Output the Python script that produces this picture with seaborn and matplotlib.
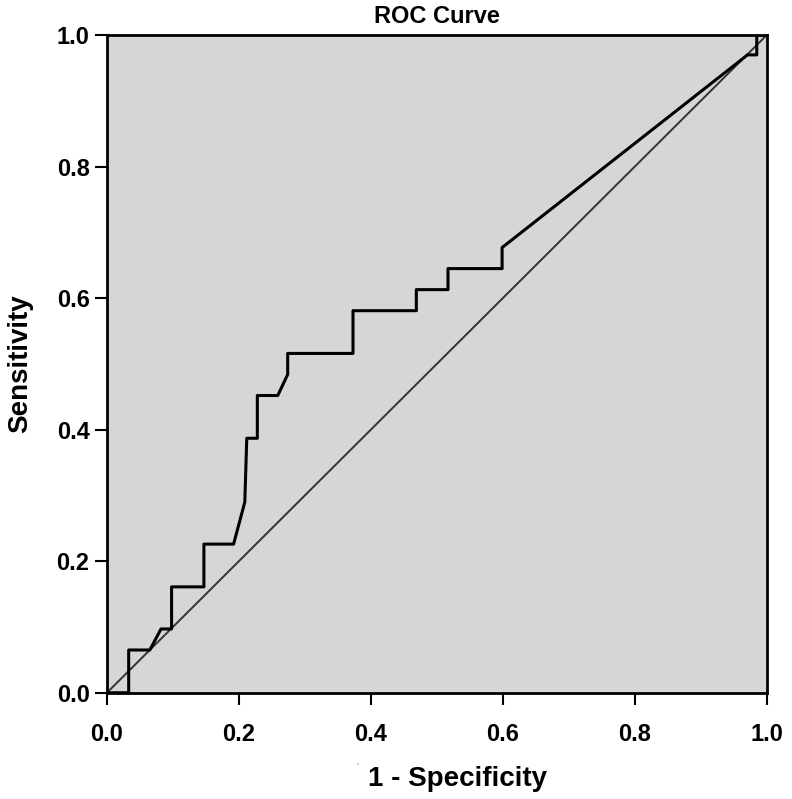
import numpy as np
import pandas as pd
import matplotlib
matplotlib.use("Agg")
import matplotlib.pyplot as plt
import seaborn as sns

# ROC curve points
fpr = [0.0, 0.033, 0.033, 0.065, 0.082, 0.098, 0.098, 0.147, 0.147, 0.192, 0.209,
       0.212, 0.212, 0.228, 0.228, 0.259, 0.274, 0.274, 0.373, 0.373, 0.469, 0.469,
       0.517, 0.517, 0.599, 0.599, 0.971, 0.985, 0.985, 1.0]
tpr = [0.0, 0.0, 0.065, 0.065, 0.097, 0.097, 0.161, 0.161, 0.226, 0.226, 0.290,
       0.387, 0.387, 0.387, 0.452, 0.452, 0.484, 0.516, 0.516, 0.581, 0.581, 0.613,
       0.613, 0.645, 0.645, 0.677, 0.970, 0.970, 1.0, 1.0]
diag = [0.0, 1.0]
ticks = [0.0, 0.2, 0.4, 0.6, 0.8, 1.0]

df = pd.DataFrame({"fpr": fpr, "tpr": tpr})

sns.set_style("ticks", {"axes.facecolor": "#d6d6d6", "axes.edgecolor": "black"})
plt.rcParams["font.family"] = ["Liberation Sans", "DejaVu Sans"]

fig = plt.figure(figsize=(7.92, 7.99), dpi=100)
ax = fig.add_axes([0.135, 0.133, 0.833, 0.823])

sns.lineplot(x=diag, y=diag, ax=ax, color="#333333", linewidth=1.4)
sns.lineplot(data=df, x="fpr", y="tpr", ax=ax, sort=False, estimator=None,
             color="black", linewidth=2.2)

ax.set_xlim(0, 1)
ax.set_ylim(0, 1)
ax.set_xticks(ticks)
ax.set_yticks(ticks)
ax.set_xticklabels([f"{t:.1f}" for t in ticks], fontsize=17, fontweight="bold")
ax.set_yticklabels([f"{t:.1f}" for t in ticks], fontsize=17, fontweight="bold")
ax.tick_params(direction="out", length=8.5, width=1.5, color="black", labelcolor="black")
ax.tick_params(axis="x", pad=13)
ax.tick_params(axis="y", pad=4)
for s in ax.spines.values():
    s.set_linewidth(2)

ax.set_xlabel("1 - Specificity", fontsize=20, fontweight="bold", color="black")
ax.xaxis.set_label_coords(0.532, -0.112)
ax.set_ylabel("Sensitivity", fontsize=20, fontweight="bold", labelpad=17, color="black")
ax.set_title("ROC Curve", fontsize=17, fontweight="bold", pad=9, color="black")
# small stray mark before the x label in the original
fig.text(357 / 792, 1 - 768 / 799, "'", fontsize=7, color="#999999", ha="center", va="center")

plt.savefig("out.png", dpi=100)
